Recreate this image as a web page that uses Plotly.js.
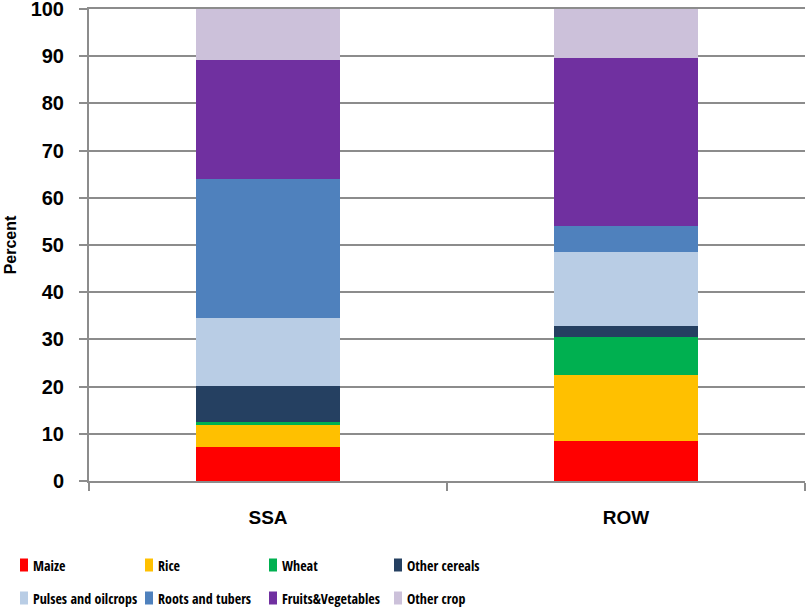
<!DOCTYPE html>
<html>
<head>
<meta charset="utf-8">
<script src="https://cdn.plot.ly/plotly-3.0.1.min.js"></script>
<style>
  html, body { margin: 0; padding: 0; background: #fff; }
  #chart { width: 807px; height: 609px; }
</style>
</head>
<body>
<div id="chart"></div>
<script>
// Regions on the x axis
const regions = ["SSA", "ROW"];

// Share of crop production value by crop group (percent)
const maize        = [7.15, 8.4];
const rice         = [4.65, 14.1];
const wheat        = [0.7, 8.0];
const otherCereals = [7.6, 2.3];
const pulses       = [14.4, 15.8];
const roots        = [29.5, 5.4];
const fruitsVeg    = [25.3, 35.6];
const otherCrop    = [10.7, 10.4];

const yTicks = [0, 10, 20, 30, 40, 50, 60, 70, 80, 90, 100];

const series = [
  { name: "Maize",               y: maize,        color: "#FF0000" },
  { name: "Rice",                y: rice,         color: "#FFC000" },
  { name: "Wheat",               y: wheat,        color: "#00B050" },
  { name: "Other cereals",       y: otherCereals, color: "#254061" },
  { name: "Pulses and oilcrops", y: pulses,       color: "#B9CDE5" },
  { name: "Roots and tubers",    y: roots,        color: "#4F81BD" },
  { name: "Fruits&Vegetables",   y: fruitsVeg,    color: "#7030A0" },
  { name: "Other crop",          y: otherCrop,    color: "#CCC1DA" }
];

const traces = series.map(s => ({
  type: "bar",
  name: s.name,
  x: regions,
  y: s.y,
  marker: { color: s.color, line: { width: 0 } },
  showlegend: false,
  hoverinfo: "name+y"
}));

// Figure geometry (px)
const W = 807, H = 609;
const M = { l: 89, r: 2, t: 9, b: 128 };
const plotW = W - M.l - M.r;
const plotH = H - M.t - M.b;
const px2x = px => (px - M.l) / plotW;
const px2y = py => (H - M.b - py) / plotH;

// Legend: 4 columns x 2 rows below the plot, square swatch + label
const legendCols = [20, 145, 269, 394];
const legendRows = [565, 598];
const swatchW = 8, swatchH = 13;

const legendShapes = [];
const legendLabels = [];
series.forEach((s, i) => {
  const cx = legendCols[i % 4];
  const cy = legendRows[Math.floor(i / 4)];
  legendShapes.push({
    type: "rect", xref: "paper", yref: "paper", layer: "above",
    x0: px2x(cx), x1: px2x(cx + swatchW),
    y0: px2y(cy + swatchH / 2), y1: px2y(cy - swatchH / 2),
    fillcolor: s.color, line: { width: 0 }
  });
  legendLabels.push({
    xref: "paper", yref: "paper",
    x: px2x(cx + swatchW + 3), y: px2y(cy),
    xanchor: "left", yanchor: "middle",
    showarrow: false,
    text: s.name,
    font: { family: "Open Sans Condensed, Roboto Condensed, sans-serif", size: 14, color: "#000", weight: "bold" }
  });
});

const gridGrey = "#8c8c8c";

const layout = {
  width: W,
  height: H,
  margin: M,
  paper_bgcolor: "#fff",
  plot_bgcolor: "#fff",
  barmode: "stack",
  bargap: 0.6,
  showlegend: false,
  font: { family: "Liberation Sans, Arial, sans-serif", color: "#000" },
  xaxis: {
    type: "category",
    range: [-0.5, 1.5],
    showline: true,
    mirror: true,
    linecolor: gridGrey,
    linewidth: 2,
    ticks: "outside",
    tickson: "boundaries",
    ticklen: 8,
    tickwidth: 2,
    tickcolor: gridGrey,
    tickfont: { family: "Liberation Sans, Arial, sans-serif", size: 19, color: "#000", weight: "bold" },
    ticklabelstandoff: 18,
    showgrid: false,
    zeroline: false,
    fixedrange: true
  },
  yaxis: {
    range: [0, 100],
    tickmode: "array",
    tickvals: yTicks,
    ticktext: yTicks.map(String),
    showline: true,
    linecolor: gridGrey,
    linewidth: 2,
    ticks: "outside",
    ticklen: 8,
    tickwidth: 2,
    tickcolor: gridGrey,
    tickfont: { family: "Liberation Sans, Arial, sans-serif", size: 20, color: "#000", weight: "bold" },
    ticklabelstandoff: 11,
    ticklabeloverflow: "allow",
    showgrid: true,
    gridcolor: gridGrey,
    gridwidth: 2,
    zeroline: false,
    title: {
      text: "Percent",
      font: { family: "Liberation Sans, Arial, sans-serif", size: 16, color: "#000", weight: "bold" },
      standoff: 10
    },
    fixedrange: true
  },
  shapes: legendShapes,
  annotations: legendLabels
};

Plotly.newPlot("chart", traces, layout, { displayModeBar: false, staticPlot: true });
</script>
</body>
</html>
